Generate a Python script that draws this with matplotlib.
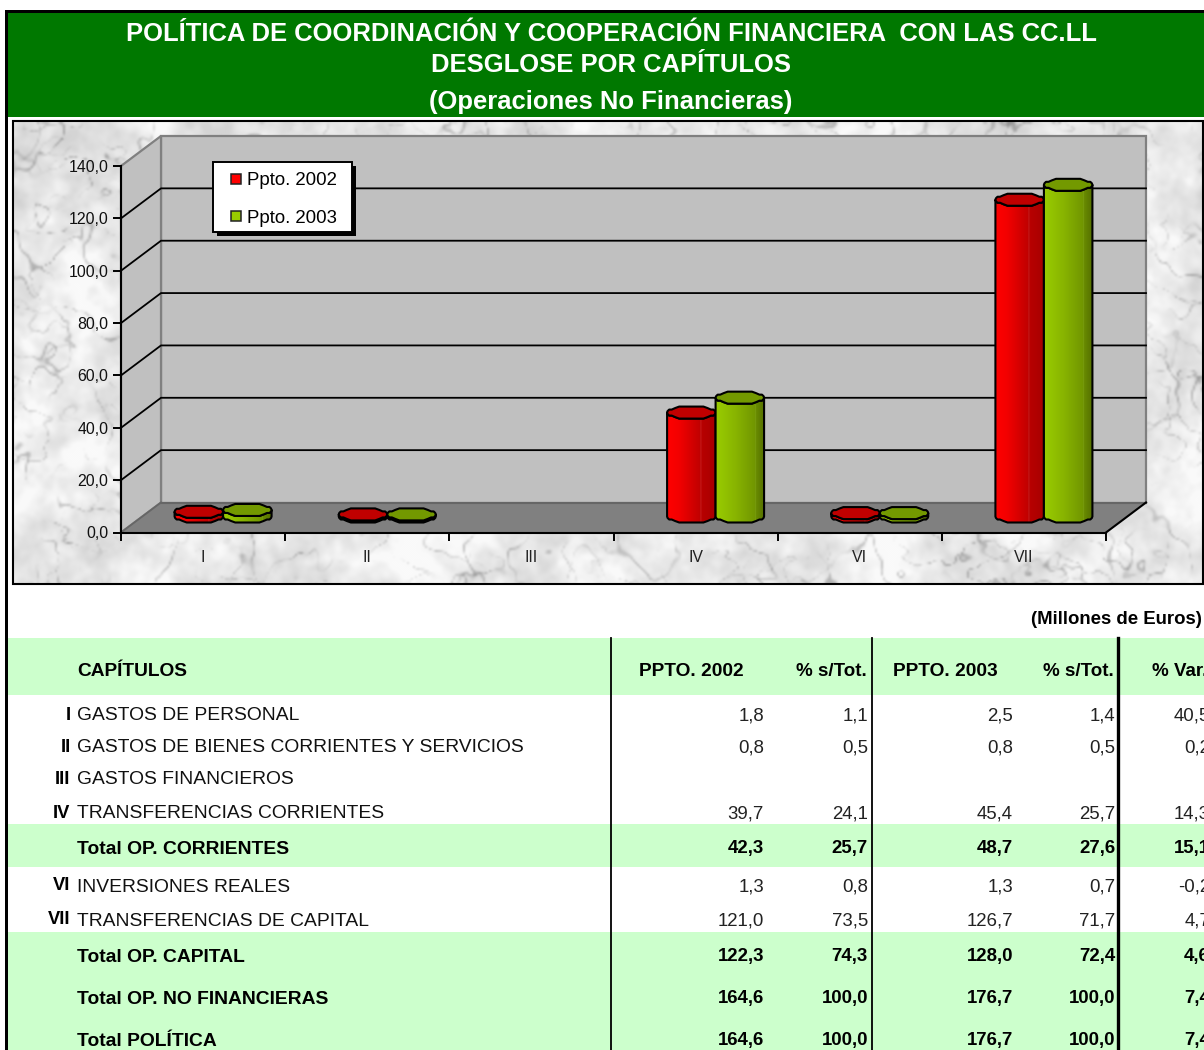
import numpy as np
import matplotlib
matplotlib.use("Agg")
import matplotlib.pyplot as plt
from matplotlib.patches import Polygon, Rectangle
from matplotlib.lines import Line2D
from matplotlib.colors import LinearSegmentedColormap

plt.rcParams['font.family'] = ['Liberation Sans', 'DejaVu Sans']

# ---------- data ----------
title_lines = ["POLÍTICA DE COORDINACIÓN Y COOPERACIÓN FINANCIERA  CON LAS CC.LL",
               "DESGLOSE POR CAPÍTULOS",
               "(Operaciones No Financieras)"]
categories = ["I", "II", "III", "IV", "VI", "VII"]
ppto_2002 = [1.8, 0.8, None, 39.7, 1.3, 121.0]
ppto_2003 = [2.5, 0.8, None, 45.4, 1.3, 126.7]
y_ticks = [0, 20, 40, 60, 80, 100, 120, 140]
series_names = ["Ppto. 2002", "Ppto. 2003"]

header_labels = ["CAPÍTULOS", "PPTO. 2002", "% s/Tot.", "PPTO. 2003", "% s/Tot.", "% Var."]
row_roman = ["I", "II", "III", "IV", "", "VI", "VII", "", "", ""]
row_names = ["GASTOS DE PERSONAL", "GASTOS DE BIENES CORRIENTES Y SERVICIOS",
             "GASTOS FINANCIEROS", "TRANSFERENCIAS CORRIENTES", "Total OP. CORRIENTES",
             "INVERSIONES REALES", "TRANSFERENCIAS DE CAPITAL", "Total OP. CAPITAL",
             "Total OP. NO FINANCIERAS", "Total POLÍTICA"]
col_p02 = ["1,8", "0,8", "", "39,7", "42,3", "1,3", "121,0", "122,3", "164,6", "164,6"]
col_s02 = ["1,1", "0,5", "", "24,1", "25,7", "0,8", "73,5", "74,3", "100,0", "100,0"]
col_p03 = ["2,5", "0,8", "", "45,4", "48,7", "1,3", "126,7", "128,0", "176,7", "176,7"]
col_s03 = ["1,4", "0,5", "", "25,7", "27,6", "0,7", "71,7", "72,4", "100,0", "100,0"]
col_var = ["40,5", "0,2", "", "14,3", "15,1", "-0,2", "4,7", "4,6", "7,4", "7,4"]
row_bold = [False, False, False, False, True, False, False, True, True, True]

# ---------- layout constants (pixels) ----------
W, H = 1204, 1050
row_y = [716, 748, 780, 814, 849, 887, 921, 957, 999, 1041]
col_right = [764, 868, 1013, 1115, 1210]
BODY = 13.4
NAME = 13.85
GREEN_BAND = "#ccffcc"
DARK_GREEN = "#007800"

fig = plt.figure(figsize=(W / 100, H / 100), dpi=100, facecolor="white")

# ---------- page layer, in pixel coordinates ----------
pg = fig.add_axes([0, 0, 1, 1], zorder=0)
pg.set_xlim(0, W)
pg.set_ylim(H, 0)
pg.axis("off")

pg.add_patch(Rectangle((8, 13), W - 8, 104, fc=DARK_GREEN, ec="none"))
pg.add_patch(Rectangle((5, 10), W - 5, 3, fc="black", ec="none"))
pg.add_patch(Rectangle((5, 10), 3, H - 10, fc="black", ec="none"))

for txt, y in zip(title_lines, [34, 65.5, 102]):
    pg.text(611, y, txt, color="white", fontsize=18.45, fontweight="bold", ha="center", va="center")


# marble background (decoration only, seeded smooth noise, generated coarse and scaled up)
def band_noise(h, w, beta, fmin, fmax, seed, stretch=1.0):
    rng = np.random.RandomState(seed)
    fy = np.fft.fftfreq(h)[:, None] * stretch
    fx = np.fft.fftfreq(w)[None, :]
    f = np.sqrt(fx ** 2 + fy ** 2)
    f[0, 0] = 1
    spec = np.fft.fft2(rng.normal(size=(h, w))) / f ** beta
    spec *= (1 - np.exp(-(f / fmin) ** 2)) * np.exp(-(f / fmax) ** 2)
    spec[0, 0] = 0
    n = np.real(np.fft.ifft2(spec))
    return n / n.std()


th, tw = 231, 595
cloud = band_noise(th, tw, 1.3, 0.008, 0.25, 3)
vein_total = np.zeros((th, tw))
for seed, stretch in [(11, 1.0), (21, 0.7), (31, 1.4)]:
    field = band_noise(th, tw, 2.0, 0.015, 0.2, seed, stretch)
    mask = np.clip(band_noise(th, tw, 1.6, 0.01, 0.1, seed + 1) * 0.6 + 0.25, 0, 1)
    vein_total += np.exp(-(field / 0.07) ** 2) * mask
tex = 234 + 9 * np.clip(cloud, -2.5, 2.2) - 55 * np.clip(vein_total, 0, 1.2)
tex = np.clip(tex, 130, 250)
pg.imshow(tex, cmap="gray", vmin=0, vmax=255, extent=(13, 1203, 584, 122), aspect="auto",
          interpolation="bicubic", zorder=1)
pg.set_xlim(0, W)
pg.set_ylim(H, 0)
pg.add_patch(Rectangle((13, 121), 1189.5, 463, fc="none", ec="black", lw=1.5, zorder=2))

# table
pg.text(1031, 620, "(Millones de Euros)", fontsize=13.4, fontweight="bold", ha="left", va="center")
pg.add_patch(Rectangle((8, 638), W, 57, fc=GREEN_BAND, ec="none"))
pg.add_patch(Rectangle((8, 824), W, 43, fc=GREEN_BAND, ec="none"))
pg.add_patch(Rectangle((8, 932), W, 118, fc=GREEN_BAND, ec="none"))
pg.plot([611, 611], [638, H], color="black", lw=1.3, zorder=3)
pg.plot([871.5, 871.5], [638, H], color="black", lw=1.3, zorder=3)
pg.plot([1118, 1118], [638, H], color="black", lw=2.4, zorder=3)

HB = 13.8
HP = 13.5
pg.text(77, 672, header_labels[0], fontsize=HB, fontweight="bold", va="center", ha="left")
pg.text(691, 672, header_labels[1], fontsize=HB, fontweight="bold", va="center", ha="center")
pg.text(867, 672, header_labels[2], fontsize=HP, fontweight="bold", va="center", ha="right")
pg.text(945, 672, header_labels[3], fontsize=HB, fontweight="bold", va="center", ha="center")
pg.text(1114, 672, header_labels[4], fontsize=HP, fontweight="bold", va="center", ha="right")
pg.text(1152, 672, header_labels[5], fontsize=HP, fontweight="bold", va="center", ha="left")

for i, y in enumerate(row_y):
    weight = "bold" if row_bold[i] else "normal"
    if row_roman[i]:
        pg.text(70.5, y - 1, row_roman[i], fontsize=BODY - 0.2, fontweight="bold", ha="right", va="center")
    pg.text(77, y, row_names[i], fontsize=NAME, fontweight=weight, ha="left", va="center",
            color="black" if row_bold[i] else "#111111")
    for col, xr in zip([col_p02, col_s02, col_p03, col_s03, col_var], col_right):
        if col[i]:
            pg.text(xr, y, col[i], fontsize=BODY, fontweight=weight, ha="right", va="center",
                    color="black" if row_bold[i] else "#222222")

# ---------- chart axes: front plane of the 3-D box ----------
X0, X1, Y0, Y1 = 121, 1106, 166, 532.5
ax = fig.add_axes([X0 / W, 1 - Y1 / H, (X1 - X0) / W, (Y1 - Y0) / H], zorder=2)
ax.set_xlim(0, len(categories))
ax.set_ylim(0, 140)
ax.patch.set_alpha(0)

DX = 40 / (X1 - X0) * len(categories)     # depth of the box in x units
DY = 30 / (Y1 - Y0) * 140                 # depth of the box in y units
NC = len(categories)
GREY = "#808080"

ax.add_patch(Polygon([(DX, DY), (NC + DX, DY), (NC + DX, 140 + DY), (DX, 140 + DY)],
                     fc="#c0c0c0", ec=GREY, lw=1.6, clip_on=False, zorder=1))
ax.add_patch(Polygon([(0, 0), (DX, DY), (DX, 140 + DY), (0, 140)],
                     fc="#c0c0c0", ec=GREY, lw=1.6, clip_on=False, zorder=1))
ax.add_patch(Polygon([(0, 0), (NC, 0), (NC + DX, DY), (DX, DY)],
                     fc=GREY, ec="none", clip_on=False, zorder=2))
ax.plot([DX, NC + DX], [DY, DY], color="#666666", lw=1.5, clip_on=False, zorder=2)
ax.plot([0, DX], [0, DY], color="#666666", lw=1.3, clip_on=False, zorder=2)
ax.plot([NC, NC + DX], [0, DY], color="black", lw=1.5, clip_on=False, zorder=3)
for t in y_ticks[1:-1]:
    ax.plot([0, DX, NC + DX], [t, t + DY, t + DY], color="black", lw=1.3, clip_on=False, zorder=3)

for s in ["top", "right"]:
    ax.spines[s].set_visible(False)
for s in ["left", "bottom"]:
    ax.spines[s].set_linewidth(1.5)
    ax.spines[s].set_zorder(20)
ax.set_yticks(y_ticks)
ax.set_yticklabels([f"{v:.1f}".replace(".", ",") for v in y_ticks], fontsize=11.4, color="#111111")
ax.tick_params(axis="y", length=6, width=1.4, pad=3)
ax.set_xticks(range(NC + 1))
ax.set_xticklabels([""] * (NC + 1))
ax.tick_params(axis="x", which="major", length=6, width=1.4)
ax.set_xticks(np.arange(NC) + 0.5, minor=True)
ax.set_xticklabels(categories, minor=True, fontsize=11.4, color="#222222")
ax.tick_params(axis="x", which="minor", length=0, pad=12.5)

BW = 48.5 / (X1 - X0) * NC
EH = 6.3 / (Y1 - Y0) * 140
STEP = 1.5 / (Y1 - Y0) * 140
BASE = 16 / (Y1 - Y0) * 140
RED = LinearSegmentedColormap.from_list("r", [(0, "#ff0000"), (0.25, "#f20000"), (0.68, "#c00000"),
                                               (0.69, "#c83030"), (0.71, "#b80000"), (1, "#a80000")])
GRN = LinearSegmentedColormap.from_list("g", [(0, "#99cc00"), (0.4, "#88b400"), (0.8, "#719600"),
                                               (0.81, "#7a9e10"), (0.83, "#688a00"), (1, "#557000")])
LIDS = ["#c00000", "#739900"]
grad = np.linspace(0, 1, 64)[None, :]


def ellipse_pts(cx, cy, a0, a1, n=16):
    a = np.linspace(a0, a1, n)
    x = cx + BW / 2 * np.cos(a)
    y = cy + np.round(np.sin(a) * EH / STEP) * STEP
    return np.column_stack([x, y])


z = 5
for i in range(NC):
    for j, (vals, cmap) in enumerate(zip([ppto_2002, ppto_2003], [RED, GRN])):
        v = vals[i]
        if v is None:
            continue
        cx = i + 0.5 + DX / 2 + (j - 0.5) * BW
        top = BASE + v
        bottom = ellipse_pts(cx, BASE, np.pi, 2 * np.pi)
        front = ellipse_pts(cx, top, 0, -np.pi)
        body = np.vstack([bottom, front])
        patch = Polygon(body, fc="none", ec="black", lw=1.5, clip_on=False, zorder=z + 2, joinstyle="round")
        ax.add_patch(patch)
        clip = Polygon(body, transform=ax.transData, fc="none", ec="none")
        im = ax.imshow(grad, cmap=cmap, vmin=0, vmax=1, aspect="auto",
                       extent=(cx - BW / 2, cx + BW / 2, BASE - EH - 1, top + EH + 1), zorder=z + 1)
        im.set_clip_path(clip)
        ring = ellipse_pts(cx, top, 0, 2 * np.pi, n=31)
        ax.add_patch(Polygon(ring, fc=LIDS[j], ec="black", lw=1.5, clip_on=False, zorder=z + 3,
                             joinstyle="round"))
        z += 4
ax.set_xlim(0, NC)
ax.set_ylim(0, 140)

# legend: frame and shadow drawn in page pixels, entries by the library
ax.add_patch(Rectangle((217, 166), 139, 70, transform=pg.transData, fc="black", ec="none",
                       clip_on=False, zorder=900))
ax.add_patch(Rectangle((213, 162), 139, 70, transform=pg.transData, fc="white", ec="black", lw=1.4,
                       clip_on=False, zorder=901))
handles = [Line2D([], [], marker="s", ls="none", ms=7.5, mfc=c, mec="#222222", mew=1.1)
           for c in ["#ff0000", "#99cc00"]]
leg = ax.legend(handles, series_names, loc="upper left", fontsize=13.4, frameon=False,
                bbox_to_anchor=(227 / W, 1 - 172 / H), bbox_transform=fig.transFigure,
                labelspacing=1.1, handletextpad=0.05, handlelength=1.0, borderpad=0, borderaxespad=0)
leg.set_zorder(1000)

fig.savefig("out.png", dpi=100, facecolor="white")
